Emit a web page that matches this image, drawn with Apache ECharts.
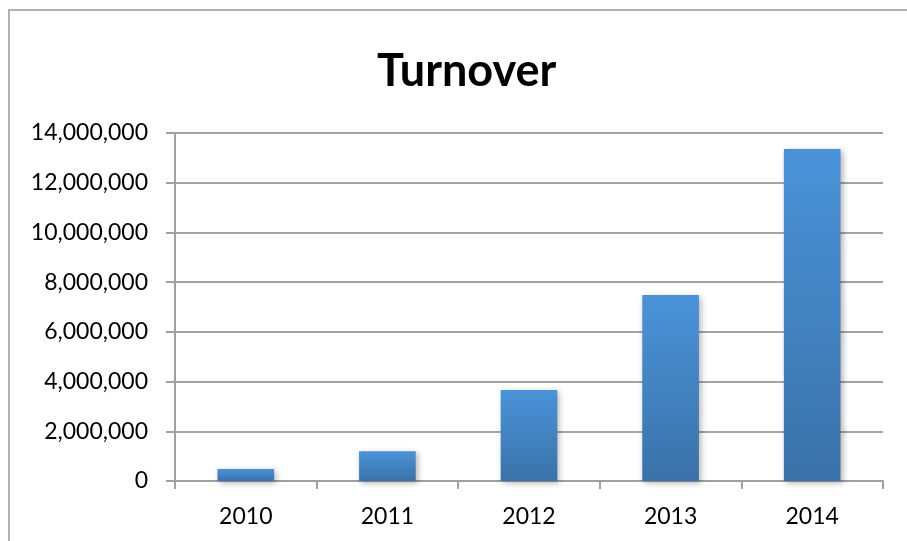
<!DOCTYPE html>
<html>
<head>
<meta charset="utf-8">
<script src="https://cdn.jsdelivr.net/npm/echarts@6/dist/echarts.min.js"></script>
<style>
html,body{margin:0;padding:0;background:#fff;}
#chart{width:907px;height:541px;}
</style>
</head>
<body>
<div id="chart"></div>
<script>
var categories = ['2010', '2011', '2012', '2013', '2014'];
var turnover = [480000, 1200000, 3660000, 7480000, 13360000];
var yTicks = { min: 0, max: 14000000, interval: 2000000 };

var chart = echarts.init(document.getElementById('chart'), null, { renderer: 'canvas' });
var fontFamily = 'Lato, "Open Sans", sans-serif';

chart.setOption({
  backgroundColor: '#ffffff',
  animation: false,
  title: {
    text: 'Turnover',
    left: 372,
    top: 44,
    textStyle: { fontFamily: fontFamily, fontWeight: 'bold', fontSize: 45, color: '#000' }
  },
  graphic: [{
    type: 'rect',
    shape: { x: 9, y: 10, width: 1000, height: 1000 },
    style: { fill: 'none', stroke: '#9a9a9a', lineWidth: 1.5 },
    silent: true
  }],
  grid: { left: 175, right: 24, top: 133, bottom: 60, containLabel: false },
  xAxis: {
    type: 'category',
    data: categories,
    boundaryGap: true,
    axisLine: { show: true, lineStyle: { color: '#a0a0a0', width: 2 } },
    axisTick: { show: true, length: 8, lineStyle: { color: '#a0a0a0', width: 2 } },
    axisLabel: { fontFamily: fontFamily, fontSize: 23, color: '#000', margin: 24 }
  },
  yAxis: {
    type: 'value',
    min: yTicks.min,
    max: yTicks.max,
    interval: yTicks.interval,
    axisLine: { show: true, lineStyle: { color: '#a0a0a0', width: 2 } },
    axisTick: { show: true, length: 9, lineStyle: { color: '#a0a0a0', width: 2 } },
    splitLine: { show: true, lineStyle: { color: '#a4a4a4', width: 2 } },
    axisLabel: {
      fontFamily: fontFamily, fontSize: 23, color: '#000', margin: 27,
      formatter: function (v) { return v.toLocaleString('en-US'); }
    }
  },
  series: [{
    type: 'bar',
    data: turnover,
    barWidth: '40%',
    itemStyle: {
      color: new echarts.graphic.LinearGradient(0, 0, 0, 1, [
        { offset: 0, color: '#4A93D9' },
        { offset: 1, color: '#3A72A9' }
      ]),
      shadowBlur: 6,
      shadowOffsetX: 2,
      shadowOffsetY: 2,
      shadowColor: 'rgba(0,0,0,0.3)'
    }
  }]
});
</script>
</body>
</html>
